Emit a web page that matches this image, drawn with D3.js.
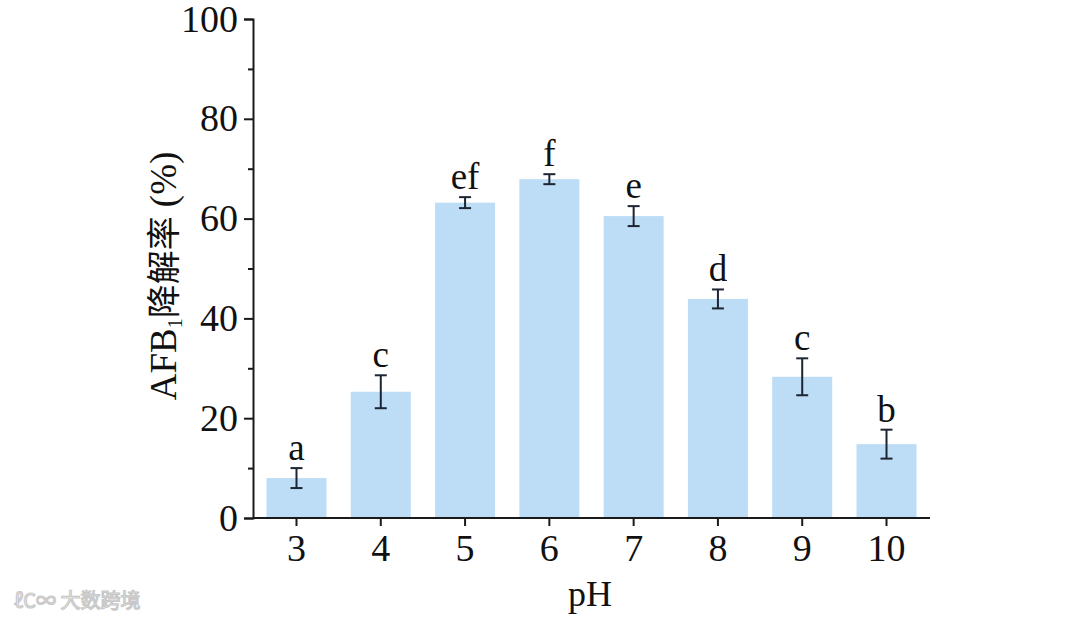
<!DOCTYPE html>
<html><head><meta charset="utf-8">
<script src="https://cdn.jsdelivr.net/npm/d3@7/dist/d3.min.js"></script>
<style>body{margin:0;background:#fff}svg{display:block}</style>
</head><body>
<svg id="c" width="1080" height="618"></svg>
<script>
const categories = ["3","4","5","6","7","8","9","10"];
const values = [8.0, 25.3, 63.2, 67.9, 60.5, 43.9, 28.3, 14.8];
const errors = [2.0, 3.3, 1.1, 1.0, 2.0, 1.9, 3.7, 2.9];
const letters = ["a","c","ef","f","e","d","c","b"];
const yTicks = [0,20,40,60,80,100];
const yMinorTicks = [10,30,50,70,90];

const svg = d3.select("#c");
const serif = "'Liberation Serif','Times New Roman',serif";
const x = d3.scaleBand().domain(categories).range([253,930]).paddingInner(0.288).paddingOuter(0.16);
const y = d3.scaleLinear().domain([0,100]).range([518,19]);

// bars
svg.append("g").selectAll("rect").data(values).join("rect")
  .attr("x",(d,i)=>x(categories[i])).attr("width",x.bandwidth())
  .attr("y",d=>y(d)).attr("height",d=>y(0)-y(d)).attr("fill","#bddcf5");

// error bars
const eg = svg.append("g").attr("stroke","#1b2533").attr("stroke-width",2).attr("fill","none");
values.forEach((v,i)=>{
  const cx = x(categories[i])+x.bandwidth()/2;
  const t = y(v+errors[i]), b = y(v-errors[i]);
  eg.append("line").attr("x1",cx).attr("x2",cx).attr("y1",t).attr("y2",b);
  eg.append("line").attr("x1",cx-6).attr("x2",cx+6).attr("y1",t).attr("y2",t);
  eg.append("line").attr("x1",cx-6).attr("x2",cx+6).attr("y1",b).attr("y2",b);
});

// letters
svg.append("g").selectAll("text").data(letters).join("text")
  .attr("x",(d,i)=>x(categories[i])+x.bandwidth()/2)
  .attr("y",(d,i)=>y(values[i]+errors[i])-8)
  .attr("text-anchor","middle").attr("font-family",serif).attr("font-size",37).attr("fill","#111")
  .text(d=>d);

// y axis
svg.append("g").attr("transform","translate(253,0)")
  .call(d3.axisLeft(y).tickValues(yTicks).tickSize(9).tickPadding(6));
svg.append("g").attr("transform","translate(253,0)")
  .call(d3.axisLeft(y).tickValues(yMinorTicks).tickSize(5).tickFormat(""))
  .call(g=>g.select(".domain").remove());
// x axis
const xa = svg.append("g").attr("transform","translate(0,518)")
  .call(d3.axisBottom(x).tickSize(8).tickSizeOuter(0).tickPadding(8));
xa.select(".domain").attr("d","M253,0H930");
svg.selectAll(".domain, .tick line").attr("stroke","#1a1a1a").attr("stroke-width",2);
svg.selectAll(".tick text").attr("font-family",serif).attr("font-size",38).attr("fill","#111");

// axis titles
svg.append("text").attr("x",590).attr("y",606).attr("text-anchor","middle")
  .attr("font-family",serif).attr("font-size",36).attr("fill","#111").text("pH");
const yl = svg.append("text").attr("transform","translate(176,276) rotate(-90)")
  .attr("text-anchor","middle").attr("font-family",serif).attr("font-size",37).attr("fill","#111");
yl.append("tspan").text("AFB");
yl.append("tspan").attr("font-size",20).attr("dy",6).text("1");
yl.append("tspan").attr("dy",-6).attr("font-family","'Noto Sans CJK SC',sans-serif").attr("font-size",34).text("降解率");
yl.append("tspan").text(" (%)");

// watermark
svg.append("text").attr("x",14).attr("y",608).attr("font-family","'Noto Sans CJK SC',sans-serif")
  .attr("font-size",20).attr("fill","#fff").attr("stroke","#c8c8c8").attr("stroke-width",1.2)
  .text("ℓC∞ 大数跨境");
</script>
</body></html>
